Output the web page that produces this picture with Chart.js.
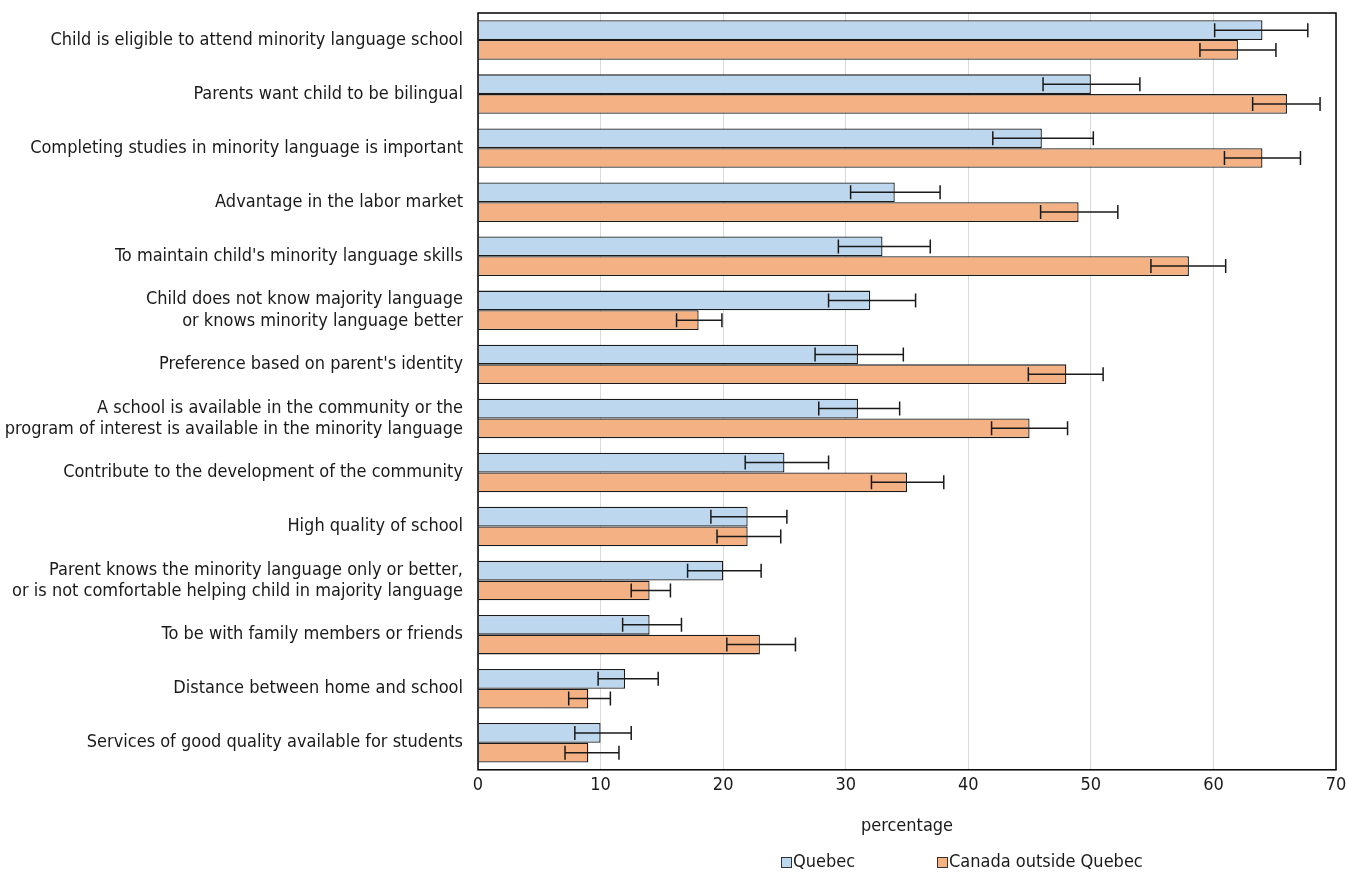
<!DOCTYPE html>
<html>
<head>
<meta charset="utf-8">
<script src="https://cdn.jsdelivr.net/npm/chart.js@4.4.1/dist/chart.umd.min.js"></script>
<style>
  html, body { margin: 0; padding: 0; background: #fff; }
  #wrap { position: relative; width: 1348px; height: 874px; }
</style>
</head>
<body>
<div id="wrap"><canvas id="grafico"></canvas></div>
<script>
// dados
const categorias = [
  'Child is eligible to attend minority language school',
  'Parents want child to be bilingual',
  'Completing studies in minority language is important',
  'Advantage in the labor market',
  "To maintain child's minority language skills",
  ['Child does not know majority language', 'or knows minority language better'],
  "Preference based on parent's identity",
  ['A school is available in the community or the', 'program of interest is available in the minority language'],
  'Contribute to the development of the community',
  'High quality of school',
  ['Parent knows the minority language only or better,', 'or is not comfortable helping child in majority language'],
  'To be with family members or friends',
  'Distance between home and school',
  'Services of good quality available for students'
];
const quebec      = [64, 50, 46, 34, 33, 32, 31, 31, 25, 22, 20, 14, 12, 10];
const quebecBaixo = [60.1, 46.1, 42.0, 30.4, 29.4, 28.6, 27.5, 27.8, 21.8, 19.0, 17.1, 11.8, 9.8, 7.9];
const quebecAlto  = [67.7, 54.0, 50.2, 37.7, 36.9, 35.7, 34.7, 34.4, 28.6, 25.2, 23.1, 16.6, 14.7, 12.5];
const canada      = [62, 66, 64, 49, 58, 18, 48, 45, 35, 22, 14, 23, 9, 9];
const canadaBaixo = [58.9, 63.2, 60.9, 45.9, 54.9, 16.2, 44.9, 41.9, 32.1, 19.5, 12.5, 20.3, 7.4, 7.1];
const canadaAlto  = [65.1, 68.7, 67.1, 52.2, 61.0, 19.9, 51.0, 48.1, 38.0, 24.7, 15.7, 25.9, 10.8, 11.5];
const ticksX = [0, 10, 20, 30, 40, 50, 60, 70];

const fonte = "'Liberation Sans Narrow', 'DejaVu Sans Condensed', 'Roboto', sans-serif";
Chart.defaults.font.family = fonte;
Chart.defaults.font.size = 18;
Chart.defaults.color = '#1a1a1a';

// barras de erro + moldura + legenda
const extras = {
  id: 'extras',
  afterDatasetsDraw(chart) {
    const ctx = chart.ctx;
    const x = chart.scales.x;
    chart.data.datasets.forEach((ds, i) => {
      const meta = chart.getDatasetMeta(i);
      meta.data.forEach((bar, j) => {
        const x1 = x.getPixelForValue(ds.erroBaixo[j]);
        const x2 = x.getPixelForValue(ds.erroAlto[j]);
        const y = bar.y;
        ctx.save();
        ctx.strokeStyle = '#1a1a1a';
        ctx.lineWidth = 1.5;
        ctx.beginPath();
        ctx.moveTo(x1, y); ctx.lineTo(x2, y);
        ctx.moveTo(x1, y - 7); ctx.lineTo(x1, y + 7);
        ctx.moveTo(x2, y - 7); ctx.lineTo(x2, y + 7);
        ctx.stroke();
        ctx.restore();
      });
    });
  },
  afterDraw(chart) {
    const ctx = chart.ctx;
    const a = chart.chartArea;
    ctx.save();
    ctx.strokeStyle = '#000';
    ctx.lineWidth = 1.5;
    ctx.strokeRect(a.left, a.top, a.right - a.left, a.bottom - a.top);
    // legenda
    ctx.font = '18px ' + fonte;
    ctx.textBaseline = 'middle';
    ctx.textAlign = 'left';
    const itens = [
      { txt: 'Quebec', cor: '#BDD7EE', x: 781 },
      { txt: 'Canada outside Quebec', cor: '#F4B183', x: 937 }
    ];
    const yl = 862;
    itens.forEach(it => {
      ctx.fillStyle = it.cor;
      ctx.fillRect(it.x, yl - 5, 10, 10);
      ctx.strokeStyle = '#333';
      ctx.lineWidth = 1;
      ctx.strokeRect(it.x + 0.5, yl - 4.5, 10, 10);
      ctx.fillStyle = '#1a1a1a';
      ctx.fillText(it.txt, it.x + 12, yl);
    });
    ctx.restore();
  }
};

new Chart(document.getElementById('grafico'), {
  type: 'bar',
  data: {
    labels: categorias,
    datasets: [
      {
        label: 'Quebec',
        data: quebec,
        erroBaixo: quebecBaixo,
        erroAlto: quebecAlto,
        backgroundColor: '#BDD7EE',
        borderColor: '#1a1a1a',
        borderWidth: 1.3,
        categoryPercentage: 0.73,
        barPercentage: 1
      },
      {
        label: 'Canada outside Quebec',
        data: canada,
        erroBaixo: canadaBaixo,
        erroAlto: canadaAlto,
        backgroundColor: '#F4B183',
        borderColor: '#1a1a1a',
        borderWidth: 1.3,
        categoryPercentage: 0.73,
        barPercentage: 1
      }
    ]
  },
  options: {
    indexAxis: 'y',
    responsive: true,
    maintainAspectRatio: false,
    animation: false,
    layout: { padding: { top: 13, right: 12, bottom: 33, left: 0 } },
    plugins: {
      legend: { display: false },
      tooltip: { enabled: false }
    },
    scales: {
      x: {
        min: 0,
        max: 70,
        afterBuildTicks: s => { s.ticks = ticksX.map(v => ({ value: v })); },
        afterFit: s => { s.paddingLeft = 0; s.paddingRight = 0; },
        grid: { color: '#d9d9d9', lineWidth: 1, drawTicks: false },
        border: { display: false },
        ticks: { padding: 5, font: { size: 18 } },
        title: { display: true, text: 'percentage', padding: { top: 14, bottom: 4 }, font: { size: 18 } }
      },
      y: {
        grid: { display: false, drawTicks: false },
        border: { display: false },
        afterFit: s => { s.width = 478; s.paddingTop = 0; s.paddingBottom = 0; },
        ticks: { padding: 15, font: { size: 18, lineHeight: 1.17 } }
      }
    }
  },
  plugins: [extras]
});
</script>
</body>
</html>
